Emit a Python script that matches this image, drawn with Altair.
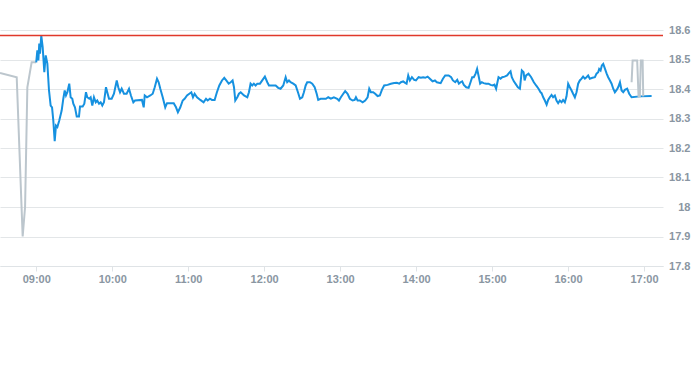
import altair as alt
import pandas as pd

# minutes relative to 09:00, prices
pre_minutes = [-28.6, -15.4, -10.7, -8.8, -7.0, -3.6, -0.9, 0.0]
pre_prices = [18.454, 18.440, 17.900, 18.000, 18.406, 18.491, 18.491, 18.490]

session_minutes = [
    0.0, 0.9, 1.7, 2.4, 3.0, 4.0, 5.1, 6.4, 7.5, 8.8, 10.1, 11.4, 12.5, 13.5, 14.6, 15.6, 16.7, 18.2, 20.1, 21.4,
    22.5, 23.5, 24.6, 26.1, 27.2, 28.5, 29.3, 30.6, 32.0, 33.8, 34.6, 36.7, 38.0, 39.3, 40.3, 41.9, 43.0, 44.3, 45.6, 47.0,
    48.2, 49.6, 50.9, 52.2, 53.5, 55.1, 56.1, 57.5, 59.6, 61.4, 63.6, 64.8, 66.2, 67.5, 69.3, 71.4, 73.3, 74.8, 76.7, 78.0,
    83.5, 84.9, 85.7, 87.5, 90.1, 92.0, 93.6, 95.4, 96.7, 98.0, 99.9, 101.9, 103.3, 108.6, 110.4, 111.9, 113.8, 115.7, 117.2, 119.1,
    120.9, 122.5, 123.8, 125.1, 127.0, 129.6, 132.2, 134.1, 135.4, 137.2, 138.8, 140.9, 142.7, 144.6, 146.7, 148.5, 150.1, 152.0, 153.6, 155.1,
    156.2, 157.2, 158.8, 160.1, 161.5, 164.1, 166.7, 168.0, 169.3, 170.6, 171.9, 173.3, 174.6, 176.7, 178.5, 180.6, 182.5, 183.8, 186.4, 189.1,
    191.1, 193.0, 195.1, 197.0, 198.2, 199.6, 200.9, 203.0, 204.9, 206.7, 208.3, 210.1, 211.4, 212.8, 214.0, 216.2, 218.0, 219.9, 221.5, 222.7,
    224.6, 226.7, 228.8, 230.6, 232.7, 235.1, 237.7, 239.1, 240.6, 242.5, 244.0, 245.9, 247.7, 249.9, 251.5, 252.5, 253.8, 255.6, 257.8, 259.8,
    261.7, 263.0, 264.3, 266.1, 267.7, 269.6, 271.4, 273.0, 274.8, 277.5, 280.1, 282.7, 284.8, 286.7, 288.0, 289.8, 291.4, 292.5, 293.8, 295.1,
    296.7, 298.5, 299.9, 302.0, 303.8, 305.6, 307.2, 309.1, 310.9, 313.0, 314.9, 316.4, 319.4, 321.2, 323.0, 325.7, 327.7, 329.1, 330.9, 332.5,
    333.8, 335.1, 336.4, 337.7, 339.6, 341.5, 343.0, 344.3, 345.6, 347.0, 348.2, 349.3, 350.6, 351.9, 353.3, 355.3, 357.2, 358.8, 360.6, 361.9,
    363.2, 364.0, 365.1, 366.7, 368.0, 369.9, 371.9, 373.3, 374.6, 375.6, 377.2, 379.0, 380.4, 382.0, 383.5, 384.9, 385.7, 386.9, 388.8, 390.9,
    393.0, 394.8, 396.7, 398.3, 399.1, 400.4, 401.7, 403.1, 404.3, 405.6, 407.0, 408.2, 409.6, 410.9, 412.2, 413.5, 414.9, 416.1, 417.5, 418.8,
    420.1, 421.4, 422.8, 424.0, 425.4, 426.7, 428.0, 429.3, 430.7, 431.9, 433.3, 434.6, 435.9, 437.2, 439.3, 441.2, 442.5, 443.8, 444.6, 445.7,
    446.7, 447.8, 449.2, 450.5, 451.7, 453.1, 454.4, 455.7, 457.0, 458.4, 459.6, 461.0, 462.3, 463.6, 464.9, 466.7, 468.3, 470.2, 476.7, 486.0,
]
session_prices = [
    18.490, 18.531, 18.497, 18.554, 18.520, 18.581, 18.542, 18.457, 18.514, 18.486, 18.395, 18.344, 18.338, 18.293, 18.223, 18.276, 18.271, 18.293, 18.327, 18.367,
    18.395, 18.378, 18.389, 18.418, 18.372, 18.367, 18.350, 18.338, 18.307, 18.307, 18.341, 18.341, 18.350, 18.389, 18.372, 18.367, 18.372, 18.344, 18.372, 18.355,
    18.361, 18.350, 18.355, 18.344, 18.355, 18.406, 18.389, 18.367, 18.367, 18.384, 18.429, 18.406, 18.389, 18.401, 18.384, 18.384, 18.401, 18.378, 18.355, 18.361,
    18.363, 18.338, 18.378, 18.372, 18.378, 18.384, 18.406, 18.435, 18.423, 18.401, 18.372, 18.338, 18.352, 18.352, 18.338, 18.321, 18.338, 18.361, 18.367, 18.378,
    18.384, 18.389, 18.372, 18.384, 18.372, 18.363, 18.355, 18.367, 18.361, 18.367, 18.363, 18.363, 18.389, 18.412, 18.429, 18.438, 18.429, 18.418, 18.423, 18.429,
    18.406, 18.361, 18.372, 18.384, 18.389, 18.378, 18.372, 18.389, 18.418, 18.412, 18.418, 18.412, 18.418, 18.418, 18.429, 18.442, 18.423, 18.412, 18.412, 18.412,
    18.404, 18.401, 18.412, 18.440, 18.423, 18.429, 18.423, 18.418, 18.412, 18.389, 18.367, 18.372, 18.389, 18.412, 18.423, 18.423, 18.418, 18.406, 18.384, 18.363,
    18.367, 18.367, 18.367, 18.372, 18.367, 18.372, 18.367, 18.361, 18.372, 18.384, 18.393, 18.384, 18.367, 18.361, 18.363, 18.372, 18.361, 18.361, 18.355, 18.361,
    18.372, 18.401, 18.389, 18.389, 18.384, 18.376, 18.378, 18.397, 18.412, 18.414, 18.418, 18.420, 18.421, 18.418, 18.423, 18.426, 18.421, 18.418, 18.446, 18.429,
    18.440, 18.431, 18.429, 18.440, 18.438, 18.440, 18.438, 18.442, 18.435, 18.426, 18.429, 18.423, 18.420, 18.435, 18.446, 18.446, 18.440, 18.429, 18.423, 18.431,
    18.418, 18.423, 18.426, 18.414, 18.406, 18.404, 18.423, 18.440, 18.440, 18.452, 18.468, 18.446, 18.418, 18.423, 18.420, 18.418, 18.418, 18.414, 18.412, 18.415,
    18.401, 18.418, 18.440, 18.435, 18.440, 18.442, 18.446, 18.454, 18.460, 18.440, 18.426, 18.415, 18.406, 18.401, 18.463, 18.457, 18.429, 18.446, 18.452, 18.440,
    18.423, 18.412, 18.401, 18.389, 18.386, 18.372, 18.361, 18.347, 18.363, 18.372, 18.380, 18.372, 18.378, 18.361, 18.352, 18.361, 18.355, 18.363, 18.355, 18.375,
    18.418, 18.406, 18.395, 18.384, 18.372, 18.389, 18.418, 18.429, 18.435, 18.442, 18.435, 18.440, 18.446, 18.435, 18.438, 18.440, 18.452, 18.457, 18.468, 18.463,
    18.480, 18.485, 18.468, 18.452, 18.440, 18.429, 18.418, 18.401, 18.389, 18.397, 18.406, 18.423, 18.395, 18.389, 18.397, 18.401, 18.384, 18.372, 18.375, 18.376,
]

post_minutes = [470.2, 471.0, 474.6, 475.7, 476.7, 477.5, 478.9, 479.4]
post_prices = [18.423, 18.497, 18.497, 18.375, 18.375, 18.497, 18.497, 18.375]

reference_price = 18.5814
y_ticks = [17.8, 17.9, 18.0, 18.1, 18.2, 18.3, 18.4, 18.5, 18.6]
hour_ticks = [9, 10, 11, 12, 13, 14, 15, 16, 17]

base = pd.Timestamp("2024-01-02 09:00:00")


def to_frame(mins, prices, seg):
    ts = [(base + pd.Timedelta(minutes=m)).strftime("%Y-%m-%dT%H:%M:%S") for m in mins]
    return pd.DataFrame({"time": ts, "price": prices, "seg": seg})


df = pd.concat([
    to_frame(pre_minutes, pre_prices, "pre"),
    to_frame(session_minutes, session_prices, "session"),
    to_frame(post_minutes, post_prices, "post"),
], ignore_index=True)
df["order"] = range(len(df))

label_color = "#8a96a2"
x_scale = alt.Scale(domain=[alt.DateTime(year=2024, month=1, date=2, hours=8, minutes=31, seconds=24),
                            alt.DateTime(year=2024, month=1, date=2, hours=17, minutes=15)])
y_scale = alt.Scale(domain=[17.8, 18.6], nice=False, zero=False)

x_axis = alt.Axis(
    title=None,
    values=[alt.DateTime(year=2024, month=1, date=2, hours=h) for h in hour_ticks],
    tickCount=20,
    format="%H:%M",
    grid=False,
    domainColor="#dfe3e6",
    tickColor="#dfe3e6",
    tickSize=5,
    labelColor=label_color,
    labelFont="Liberation Sans",
    labelFontSize=11,
    labelFontWeight="bold",
    labelPadding=2,
)
y_axis = alt.Axis(
    title=None,
    orient="right",
    values=y_ticks,
    tickCount=20,
    labelOverlap=False,
    format=".1~f",
    grid=True,
    gridColor="#e3e6e8",
    domain=False,
    ticks=False,
    labelAlign="right",
    labelPadding=27,
    labelColor=label_color,
    labelFont="Liberation Sans",
    labelFontSize=11,
    labelFontWeight="bold",
)

lines = alt.Chart(df).mark_line(strokeWidth=2, interpolate="linear").encode(
    x=alt.X("time:T", scale=x_scale, axis=x_axis),
    y=alt.Y("price:Q", scale=y_scale, axis=y_axis),
    color=alt.Color("seg:N", scale=alt.Scale(domain=["pre", "session", "post"],
                                             range=["#bcc6cd", "#1691e0", "#bcc6cd"]), legend=None),
    detail="seg:N",
    order="order:Q",
)

rule = alt.Chart(pd.DataFrame({"price": [reference_price]})).mark_rule(
    strokeWidth=1.5
).encode(
    y=alt.Y("price:Q", scale=y_scale),
    stroke=alt.value("#e0392b"),
)

chart = alt.layer(lines, rule).properties(
    width=663,
    height=236,
    autosize=alt.AutoSizeParams(type="none"),
    padding={"left": 0, "top": 30, "right": 30, "bottom": 99},
).configure_view(stroke=None)

chart.save("out.html", embed_options={"renderer": "svg", "actions": False})
